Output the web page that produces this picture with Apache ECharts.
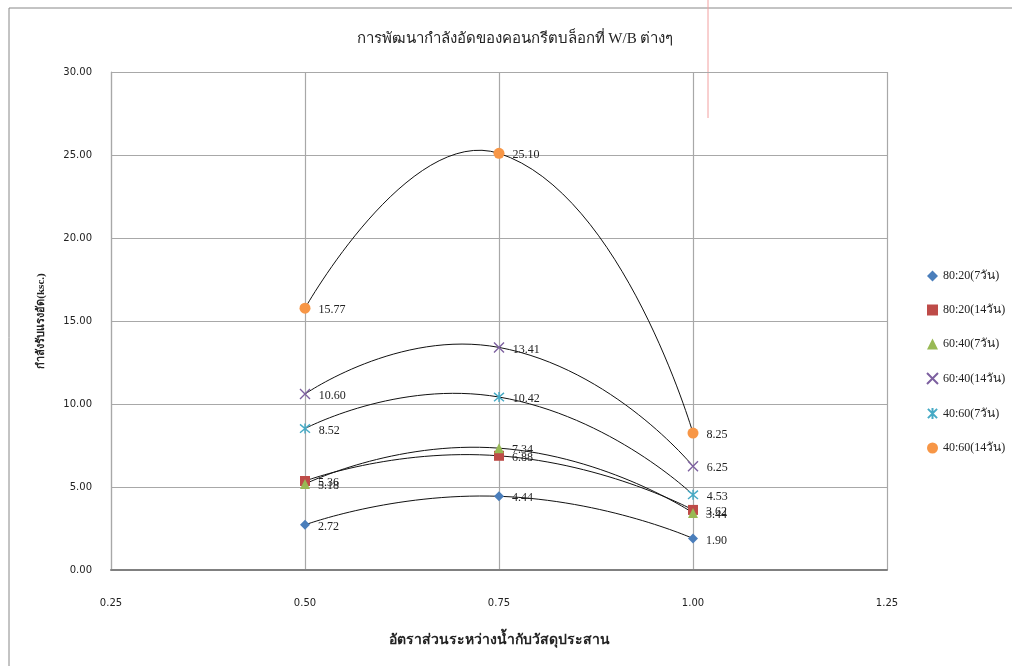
<!DOCTYPE html>
<html><head><meta charset="utf-8">
<script src="https://cdn.jsdelivr.net/npm/echarts@6/dist/echarts.min.js"></script>
<style>html,body{margin:0;padding:0;background:#fff}#c{width:1012px;height:666px}</style>
</head><body><div id="c"></div>
<script>
var xValues = [0.50, 0.75, 1.00];
var seriesNames = ['80:20(7วัน)', '80:20(14วัน)', '60:40(7วัน)', '60:40(14วัน)', '40:60(7วัน)', '40:60(14วัน)'];
var s8020d7 = [2.72, 4.44, 1.90];
var s8020d14 = [5.36, 6.88, 3.62];
var s6040d7 = [5.18, 7.34, 3.44];
var s6040d14 = [10.60, 13.41, 6.25];
var s4060d7 = [8.52, 10.42, 4.53];
var s4060d14 = [15.77, 25.10, 8.25];
var xTicks = [0.25, 0.50, 0.75, 1.00, 1.25];
var yTicks = [0, 5, 10, 15, 20, 25, 30];

var allValues = [s8020d7, s8020d14, s6040d7, s6040d14, s4060d7, s4060d14];
var colors = ['#4A7EBB', '#BE4B48', '#98B954', '#7D60A0', '#46AAC5', '#F79646'];
var symbols = ['diamond', 'rect', 'triangle',
  'path://M0,0L10,10M10,0L0,10',
  'path://M0,0L10,10M10,0L0,10M5,-1L5,11',
  'circle'];
var sizes = [10, 10, 10, 10, 10, 11];
var TENSION = 0.55;

// Excel-like smoothed curve: Bezier segments through the data points,
// positioned through the chart's own coordinate system (api.coord).
function makeCurveRender(vals) {
  return function (params, api) {
    var i = params.dataIndex;
    if (i >= vals.length - 1) return null;
    var P = vals.map(function (v, j) { return api.coord([xValues[j], v]); });
    function dist(a, b) { return Math.sqrt((a[0]-b[0])*(a[0]-b[0]) + (a[1]-b[1])*(a[1]-b[1])); }
    function ctrlOut(k) {
      if (k === 0) return P[0].slice();
      var d1 = dist(P[k-1], P[k]), d2 = dist(P[k], P[k+1]);
      var f = TENSION * d2 / (d1 + d2);
      return [P[k][0] + (P[k+1][0]-P[k-1][0]) * f, P[k][1] + (P[k+1][1]-P[k-1][1]) * f];
    }
    function ctrlIn(k) {
      if (k === P.length - 1) return P[k].slice();
      var d1 = dist(P[k-1], P[k]), d2 = dist(P[k], P[k+1]);
      var f = TENSION * d1 / (d1 + d2);
      return [P[k][0] - (P[k+1][0]-P[k-1][0]) * f, P[k][1] - (P[k+1][1]-P[k-1][1]) * f];
    }
    var c1 = ctrlOut(i), c2 = ctrlIn(i + 1);
    return {
      type: 'bezierCurve',
      shape: { x1: P[i][0], y1: P[i][1], x2: P[i+1][0], y2: P[i+1][1],
               cpx1: c1[0], cpy1: c1[1], cpx2: c2[0], cpy2: c2[1] },
      style: { stroke: '#111', lineWidth: 1, fill: null },
      silent: true
    };
  };
}

var series = [];
allValues.forEach(function (vals) {
  series.push({
    type: 'custom',
    renderItem: makeCurveRender(vals),
    data: vals.map(function (v, j) { return [xValues[j], v]; }),
    encode: { x: 0, y: 1 },
    clip: false,
    silent: true,
    z: 2
  });
});
allValues.forEach(function (vals, i) {
  var stroked = i === 3 || i === 4;
  series.push({
    name: seriesNames[i],
    type: 'scatter',
    data: vals.map(function (v, j) { return [xValues[j], v]; }),
    symbol: symbols[i],
    symbolSize: sizes[i],
    itemStyle: stroked ? { color: 'rgba(0,0,0,0)', borderColor: colors[i], borderWidth: 1.4, opacity: 1 }
                       : { color: colors[i], borderWidth: 0, opacity: 1 },
    label: {
      show: true, position: 'right', distance: 8, offset: [0, 2],
      color: '#222', fontSize: 12, fontFamily: 'Liberation Serif, serif',
      formatter: function (p) { return p.value[1].toFixed(2); }
    },
    emphasis: { disabled: true },
    z: 3
  });
});

var font = 'Liberation Serif, DejaVu Serif, serif';
var chart = echarts.init(document.getElementById('c'), null, { renderer: 'canvas' });
chart.setOption({
  animation: false,
  backgroundColor: '#fff',
  title: {
    text: 'การพัฒนากำลังอัดของคอนกรีตบล็อกที่ W/B ต่างๆ',
    left: 510, top: 27, textAlign: 'center',
    textStyle: { fontSize: 15, fontWeight: 'normal', color: '#222', fontFamily: font }
  },
  grid: { left: 111, right: 125, top: 72, bottom: 96 },
  legend: {
    orient: 'vertical', left: 921, top: 265, itemGap: 22,
    itemWidth: 11, itemHeight: 11,
    textStyle: { fontSize: 12, color: '#222', fontFamily: font },
    data: seriesNames.map(function (n, i) {
      return { name: n, icon: symbols[i] };
    })
  },
  xAxis: {
    type: 'value', min: 0.25, max: 1.25, interval: 0.25,
    name: 'อัตราส่วนระหว่างน้ำกับวัสดุประสาน',
    nameLocation: 'middle', nameGap: 63,
    nameTextStyle: { fontSize: 14, fontWeight: 'bold', color: '#222', fontFamily: font },
    axisLine: { show: true, lineStyle: { color: '#808080', width: 2 } },
    axisTick: { show: false },
    axisLabel: { margin: 28, fontSize: 10, color: '#222', fontFamily: 'DejaVu Sans, sans-serif',
      formatter: function (v) { return v.toFixed(2); } },
    splitLine: { show: true, lineStyle: { color: '#a8a8a8', width: 1.2 } }
  },
  yAxis: {
    type: 'value', min: 0, max: 30, interval: 5,
    name: 'กำลังรับแรงอัด(ksc.)',
    nameLocation: 'middle', nameGap: 64,
    nameTextStyle: { fontSize: 11, fontWeight: 'bold', color: '#222', fontFamily: font },
    axisLine: { show: true, lineStyle: { color: '#a8a8a8', width: 1.2 } },
    axisTick: { show: false },
    axisLabel: { margin: 19, fontSize: 10, color: '#222', fontFamily: 'DejaVu Sans, sans-serif',
      formatter: function (v) { return v.toFixed(2); } },
    splitLine: { show: true, lineStyle: { color: '#a8a8a8', width: 1.2 } }
  },
  graphic: [
    { type: 'polyline', shape: { points: [[9, 700], [9, 8], [1020, 8]] },
      style: { stroke: '#888', lineWidth: 1, fill: null }, silent: true },
    { type: 'line', shape: { x1: 708, y1: 0, x2: 708, y2: 118 },
      style: { stroke: '#f2a0a0', lineWidth: 1 }, silent: true }
  ],
  series: series
});
</script>
</body></html>
